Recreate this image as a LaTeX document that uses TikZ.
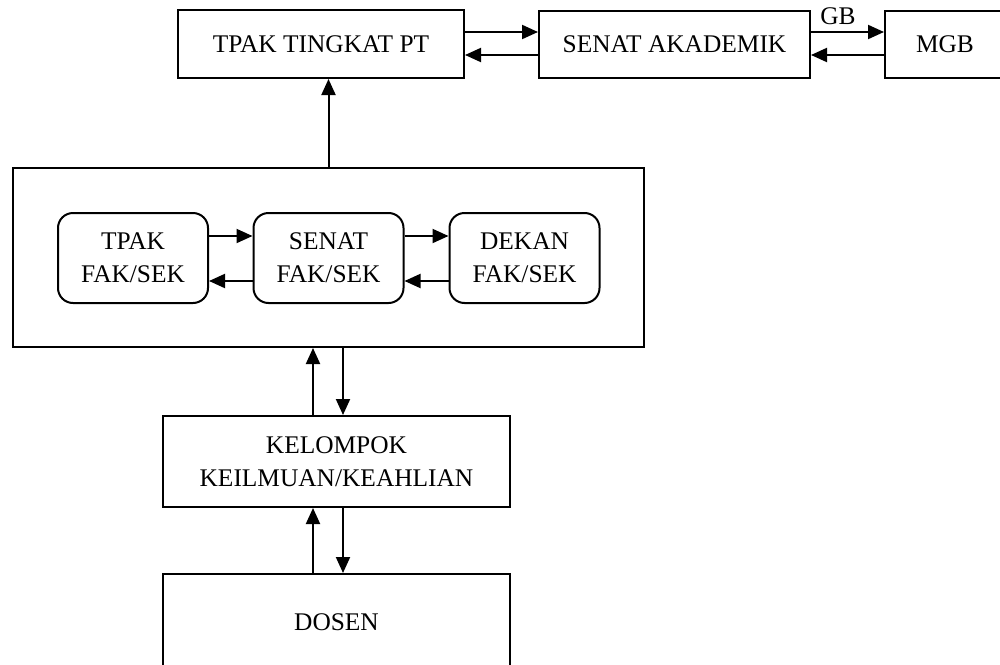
\documentclass[tikz,border=0pt]{standalone}
\usepackage{fontspec}
\setmainfont{Liberation Serif}
\usetikzlibrary{arrows.meta}
\tikzset{>={Triangle[length=8pt,width=7pt]}}

\begin{document}
\begin{tikzpicture}[x=0.5pt,y=-0.5pt,font=\fontsize{12.7}{16.5}\selectfont]
    \tikzstyle{box}=[draw,line width=1pt,align=center,inner sep=0pt];
    \tikzstyle{rbox}=[box,rounded corners=7.5pt,minimum width=75pt,minimum height=45pt];
    \tikzstyle{link}=[line width=1pt,->];
    \clip (0,0) rectangle (1000,664);
    \node[box,minimum width=143pt,minimum height=34pt] (tpakpt) at (321,44) {TPAK TINGKAT PT};
    \node[box,minimum width=135.5pt,minimum height=33.5pt] (senatak) at (674.5,44) {SENAT AKADEMIK};
    \node[box,minimum width=60pt,minimum height=33.5pt] (mgb) at (945,44) {MGB};
    \node[box,minimum width=315.5pt,minimum height=89.5pt] (fak) at (328.5,257.5) {};
    \node[rbox] (tpakfak) at (133,258) {TPAK\\FAK/SEK};
    \node[rbox] (senatfak) at (328.5,258) {SENAT\\FAK/SEK};
    \node[rbox] (dekan) at (524.5,258) {DEKAN\\FAK/SEK};
    \node[box,minimum width=173.5pt,minimum height=45.5pt] (kk) at (336.5,461.5) {KELOMPOK\\KEILMUAN/KEAHLIAN};
    \node[box,minimum width=173.5pt,minimum height=48pt] (dosen) at (336.5,622) {DOSEN};
    \draw[link]([yshift=6pt]tpakpt.east)--([yshift=6pt]senatak.west);
    \draw[link]([yshift=-5.5pt]senatak.west)--([yshift=-5.5pt]tpakpt.east);
    \draw[link]([yshift=6pt]senatak.east)--([yshift=6pt]mgb.west) node[pos=.37,above]{GB};
    \draw[link]([yshift=-5.5pt]mgb.west)--([yshift=-5.5pt]senatak.east);
    \draw[link](fak.north)--(fak.north |- tpakpt.south);
    \draw[link]([yshift=11pt]tpakfak.east)--([yshift=11pt]senatfak.west);
    \draw[link]([yshift=-11.5pt]senatfak.west)--([yshift=-11.5pt]tpakfak.east);
    \draw[link]([yshift=11pt]senatfak.east)--([yshift=11pt]dekan.west);
    \draw[link]([yshift=-11.5pt]dekan.west)--([yshift=-11.5pt]senatfak.east);
    \coordinate (kkup) at ([xshift=-11.75pt]kk.north);
    \coordinate (kkdown) at ([xshift=3.25pt]kk.north);
    \draw[link](kkup)--(kkup |- fak.south);
    \draw[link](kkdown |- fak.south)--(kkdown);
    \coordinate (dsup) at ([xshift=-11.75pt]dosen.north);
    \coordinate (dsdown) at ([xshift=3.25pt]dosen.north);
    \draw[link](dsup)--(dsup |- kk.south);
    \draw[link](dsdown |- kk.south)--(dsdown);
  \end{tikzpicture}
\end{document}
